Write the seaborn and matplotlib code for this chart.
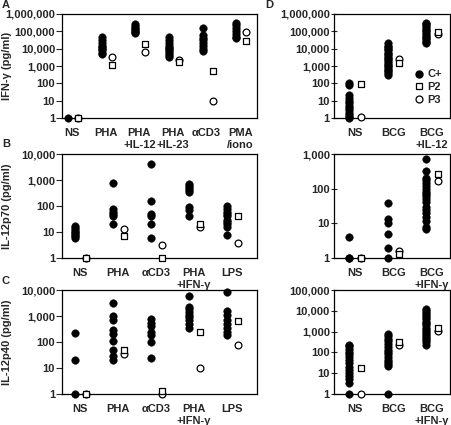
#!/usr/bin/env python3
"""
Painel de citocinas (IFN-g, IL-12p70, IL-12p40) em escala log,
controles (C+) vs pacientes P2 e P3.
"""
import matplotlib
matplotlib.use("Agg")
import matplotlib.pyplot as plt
from matplotlib.lines import Line2D
from matplotlib.ticker import NullLocator
import pandas as pd
import seaborn as sns

# ----- Painel A: IFN-gamma -----
A_CATS = ["NS", "PHA", "PHA\n+IL-12", "PHA\n+IL-23", "αCD3", "PMA\n/iono"]
A_CPLUS = [
    [1],
    [45000, 30000, 20000, 15000, 12000, 10000, 8000, 6000, 5000],
    [250000, 200000, 160000, 130000, 110000, 90000, 75000],
    [45000, 30000, 20000, 15000, 11000, 9000, 7000, 5500, 4500, 3500],
    [160000, 60000, 40000, 30000, 20000, 15000, 10000, 7000],
    [300000, 220000, 150000, 100000, 70000, 50000, 40000],
]
A_P2 = [1, 1150, 18000, 1600, 540, 27000]
A_P3 = [1, 3200, 6200, 2200, 10, 88000]

# ----- Painel B: IL-12p70 -----
B_CATS = ["NS", "PHA", "αCD3", "PHA\n+IFN-γ", "LPS"]
B_CPLUS = [
    [17, 14, 12, 10, 9, 8, 7, 6],
    [750, 80, 60, 50, 40, 20],
    [4000, 150, 50, 40, 20, 6],
    [700, 600, 500, 400, 350, 90, 70, 40],
    [100, 80, 60, 50, 40, 30, 25, 20, 15, 8],
]
B_P2 = [1, 7.2, 1, 20, 42]
B_P3 = [1, 12.6, 3.1, 15, 3.7]

# ----- Painel C: IL-12p40 -----
C_CATS = ["NS", "PHA", "αCD3", "PHA\n+IFN-γ", "LPS"]
C_CPLUS = [
    [230, 20, 1],
    [3200, 1000, 700, 300, 200, 110, 50, 30, 20],
    [800, 550, 400, 250, 180, 100, 25],
    [6000, 2200, 1800, 1400, 1100, 900, 700, 500, 350],
    [8500, 1500, 1100, 700, 500, 350, 250, 180],
]
C_P2 = [1, 49, 1.3, 235, 660]
C_P3 = [1, 35, 1, 10, 76]

# ----- Painel D: IFN-gamma (BCG) -----
D_CATS = ["NS", "BCG", "BCG\n+IL-12"]
D_CPLUS = [
    [100, 80, 20, 15, 10, 7, 5, 4, 3, 2, 1.5, 1.2, 1],
    [20000, 15000, 12000, 10000, 8000, 6000, 5000, 4000, 3000, 2500,
     2000, 1500, 1200, 1000, 800, 600, 500, 400, 300],
    [300000, 250000, 200000, 150000, 120000, 100000, 80000, 60000,
     50000, 40000, 30000, 25000, 20000],
]
D_P2 = [90, 1500, 90000]
D_P3 = [1.15, 2500, 70000]

# ----- Painel E: IL-12p70 (BCG) -----
E_CATS = ["NS", "BCG", "BCG\n+IFN-γ"]
E_CPLUS = [
    [4, 1, 1],
    [38, 13, 10, 5, 2, 1],
    [700, 330, 200, 180, 150, 120, 100, 80, 70, 60, 50, 40, 30, 25,
     20, 15, 12, 8, 7],
]
E_P2 = [1, 1.3, 260]
E_P3 = [1, 1.6, 166]

# ----- Painel F: IL-12p40 (BCG) -----
F_CATS = ["NS", "BCG", "BCG\n+IFN-γ"]
F_CPLUS = [
    [230, 200, 150, 100, 80, 60, 45, 30, 20, 15, 10, 7, 5, 3.5, 1],
    [750, 600, 450, 350, 250, 180, 130, 100, 80, 60, 45, 35, 28, 22, 1],
    [12000, 10000, 8000, 6000, 5000, 4000, 3000, 2500, 2000, 1500,
     1200, 1000, 800, 600, 500, 400, 300, 220],
]
F_P2 = [18.6, 310, 1500]
F_P3 = [1, 215, 1100]

FONTE = 8
W, H = 452, 425


def montar_df(cplus, p2, p3, desl_ponto, desl_aberto):
    """Monta a tabela longa (x numerico, valor, grupo) para o seaborn."""
    linhas = []
    for i, vals in enumerate(cplus):
        for v in vals:
            linhas.append((i + desl_ponto, v, "C+"))
    for i, v in enumerate(p3):
        linhas.append((i + desl_aberto, v, "P3"))
    for i, v in enumerate(p2):
        linhas.append((i + desl_aberto, v, "P2"))
    return pd.DataFrame(linhas, columns=["x", "valor", "grupo"])


def painel(ax, cats, cplus, p2, p3, ymax, xlim, desl, lado="out"):
    df = montar_df(cplus, p2, p3, desl[0], desl[1])
    sns.scatterplot(data=df[df.grupo == "C+"], x="x", y="valor", color="black",
                    edgecolor="black", s=30, linewidth=0.3, ax=ax, clip_on=False,
                    zorder=3, legend=False)
    sns.scatterplot(data=df[df.grupo == "P3"], x="x", y="valor", marker="o",
                    color="white", edgecolor="black", s=24, linewidth=0.9,
                    ax=ax, clip_on=False, zorder=4, legend=False)
    sns.scatterplot(data=df[df.grupo == "P2"], x="x", y="valor", marker="s",
                    color="white", edgecolor="black", s=22, linewidth=0.9,
                    ax=ax, clip_on=False, zorder=5, legend=False)
    ax.set_yscale("log")
    ax.set_ylim(1, ymax)
    ax.set_xlim(*xlim)
    decadas = [10 ** k for k in range(0, len(str(ymax)))]
    ax.set_yticks(decadas)
    ax.set_yticklabels([f"{d:,}" for d in decadas], fontsize=FONTE,
                       fontweight="bold")
    ax.yaxis.set_minor_locator(NullLocator())
    ax.set_xticks(range(len(cats)))
    ax.set_xticklabels(cats, fontsize=FONTE, fontweight="bold", linespacing=1.2)
    ax.tick_params(axis="x", length=0, pad=7.5)
    ax.tick_params(axis="y", direction=lado, length=4, width=0.8, pad=1)
    ax.set_xlabel("")
    ax.set_ylabel("")
    for sp in ax.spines.values():
        sp.set_linewidth(0.9)
        sp.set_color("black")


def eixo(fig, x0, topo, larg, alt):
    return fig.add_axes([x0 / W, 1 - (topo + alt) / H, larg / W, alt / H])


sns.set_style("ticks")
plt.rcParams["font.family"] = ["Liberation Sans", "DejaVu Sans"]

fig = plt.figure(figsize=(W / 100, H / 100), dpi=100)

# posicoes em pixels (esquerda, topo, largura, altura)
axA = eixo(fig, 62, 14, 195, 104)
axB = eixo(fig, 62, 154, 195, 104)
axC = eixo(fig, 62, 290, 195, 104)
axD = eixo(fig, 334, 14, 116, 104)
axE = eixo(fig, 334, 154, 116, 104)
axF = eixo(fig, 334, 290, 116, 104)

painel(axA, A_CATS, A_CPLUS, A_P2, A_P3, 1000000, (-0.3, 5.5), (-0.12, 0.18))
painel(axB, B_CATS, B_CPLUS, B_P2, B_P3, 10000, (-0.47, 4.66), (-0.13, 0.15))
painel(axC, C_CATS, C_CPLUS, C_P2, C_P3, 10000, (-0.47, 4.66), (-0.13, 0.15))
painel(axD, D_CATS, D_CPLUS, D_P2, D_P3, 1000000, (-0.55, 2.47), (-0.15, 0.15), "inout")
painel(axE, E_CATS, E_CPLUS, E_P2, E_P3, 1000, (-0.55, 2.47), (-0.15, 0.15), "inout")
painel(axF, F_CATS, F_CPLUS, F_P2, F_P3, 100000, (-0.55, 2.47), (-0.15, 0.15), "inout")

for ax, rot in [(axA, "IFN-γ (pg/ml)"), (axB, "IL-12p70 (pg/ml)"),
                (axC, "IL-12p40 (pg/ml)")]:
    ax.set_ylabel(rot, fontsize=FONTE, fontweight="bold")
    ax.yaxis.set_label_coords(-0.255, 0.5)

# legenda do painel D
itens = [
    Line2D([], [], marker="o", ls="", color="black", markersize=5, label="C+"),
    Line2D([], [], marker="s", ls="", mfc="white", mec="black", mew=0.9,
           markersize=5, label="P2"),
    Line2D([], [], marker="o", ls="", mfc="white", mec="black", mew=0.9,
           markersize=5, label="P3"),
]
axD.legend(handles=itens, loc="lower right", frameon=False,
           prop={"weight": "bold", "size": FONTE}, handlelength=0.6,
           handletextpad=0.5, labelspacing=0.25, borderaxespad=0.3,
           bbox_to_anchor=(1.0, 0.05))

for letra, x, y in [("A", 2, 0), ("B", 2, 139), ("C", 2, 276), ("D", 265, 0)]:
    fig.text(x / W, 1 - y / H, letra, fontsize=FONTE, fontweight="bold",
             ha="left", va="top")

fig.savefig("out.png", dpi=100)
